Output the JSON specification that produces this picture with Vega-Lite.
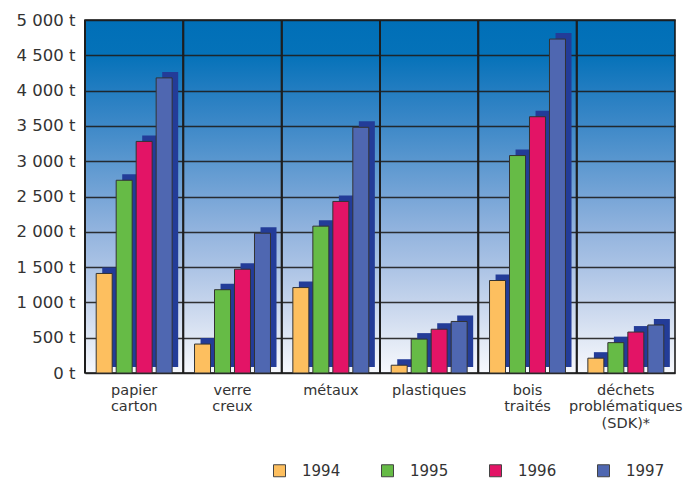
{
  "$schema": "https://vega.github.io/schema/vega-lite/v6.json",
  "width": 590,
  "height": 353,
  "autosize": "none",
  "padding": {"left": 85, "top": 20, "right": 16, "bottom": 108},
  "background": "white",
  "data": {
    "values": [
      {"cat": "papier\ncarton", "year": "1994", "t": 1410},
      {"cat": "papier\ncarton", "year": "1995", "t": 2730},
      {"cat": "papier\ncarton", "year": "1996", "t": 3280},
      {"cat": "papier\ncarton", "year": "1997", "t": 4180},
      {"cat": "verre\ncreux", "year": "1994", "t": 410},
      {"cat": "verre\ncreux", "year": "1995", "t": 1180},
      {"cat": "verre\ncreux", "year": "1996", "t": 1470},
      {"cat": "verre\ncreux", "year": "1997", "t": 1980},
      {"cat": "métaux", "year": "1994", "t": 1210},
      {"cat": "métaux", "year": "1995", "t": 2080},
      {"cat": "métaux", "year": "1996", "t": 2430},
      {"cat": "métaux", "year": "1997", "t": 3480},
      {"cat": "plastiques", "year": "1994", "t": 110},
      {"cat": "plastiques", "year": "1995", "t": 480},
      {"cat": "plastiques", "year": "1996", "t": 620},
      {"cat": "plastiques", "year": "1997", "t": 730},
      {"cat": "bois\ntraités", "year": "1994", "t": 1310},
      {"cat": "bois\ntraités", "year": "1995", "t": 3080},
      {"cat": "bois\ntraités", "year": "1996", "t": 3630},
      {"cat": "bois\ntraités", "year": "1997", "t": 4730},
      {"cat": "déchets\nproblématiques\n(SDK)*", "year": "1994", "t": 210},
      {"cat": "déchets\nproblématiques\n(SDK)*", "year": "1995", "t": 430},
      {"cat": "déchets\nproblématiques\n(SDK)*", "year": "1996", "t": 580},
      {"cat": "déchets\nproblématiques\n(SDK)*", "year": "1997", "t": 680}
    ]
  },
  "encoding": {
    "x": {
      "field": "cat",
      "type": "nominal",
      "sort": null,
      "scale": {"paddingInner": 0, "paddingOuter": 0},
      "axis": {
        "title": null,
        "ticks": false,
        "domain": false,
        "labelAngle": 0,
        "labelPadding": 10,
        "labelFont": "DejaVu Sans",
        "labelFontSize": 14.5,
        "labelColor": "#333333",
        "labelLineHeight": 16.5,
        "labelBaseline": "top",
        "labelExpr": "split(datum.label, '\\n')"
      }
    },
    "y": {
      "field": "t",
      "type": "quantitative",
      "scale": {"domain": [0, 5000], "nice": false},
      "axis": {
        "title": null,
        "values": [0, 500, 1000, 1500, 2000, 2500, 3000, 3500, 4000, 4500, 5000],
        "labelOverlap": false,
        "ticks": false,
        "domain": false,
        "labelPadding": 10,
        "labelFont": "DejaVu Sans",
        "labelFontSize": 16.5,
        "labelColor": "#333333",
        "gridColor": "#1e1e1e",
        "gridWidth": 1.5,
        "gridOpacity": 0.9,
        "labelExpr": "replace(format(datum.value, ','), ',', ' ') + ' t'"
      }
    }
  },
  "layer": [
    {
      "mark": {"type": "rule", "color": "#1e1e1e", "strokeWidth": 1.5},
      "encoding": {
        "x": {"field": "cat", "type": "nominal", "sort": null, "bandPosition": 0},
        "y": null
      }
    },
    {
      "mark": {"type": "bar", "color": "#233c98", "yOffset": -6},
      "encoding": {
        "xOffset": {"field": "year", "type": "nominal", "scale": {"paddingInner": 0.2, "paddingOuter": 0.56, "align": 0.77}}
      }
    },
    {
      "mark": {"type": "bar", "stroke": "#333333", "strokeWidth": 1},
      "encoding": {
        "xOffset": {"field": "year", "type": "nominal", "scale": {"paddingInner": 0.2, "paddingOuter": 0.56}},
        "color": {
          "field": "year",
          "type": "nominal",
          "scale": {"domain": ["1994", "1995", "1996", "1997"], "range": ["#fdbf5f", "#66bb46", "#e31466", "#4f67b1"]},
          "legend": {
            "title": null,
            "orient": "none",
            "legendX": 187,
            "legendY": 443,
            "direction": "horizontal",
            "columns": 4,
            "columnPadding": 38,
            "padding": 0,
            "symbolType": "square",
            "symbolSize": 144,
            "symbolStrokeColor": "#444444",
            "symbolStrokeWidth": 1,
            "labelOffset": 15,
            "labelFont": "DejaVu Sans",
            "labelFontSize": 15,
            "labelColor": "#333333"
          }
        }
      }
    }
  ],
  "resolve": {"scale": {"xOffset": "independent"}},
  "config": {
    "view": {
      "stroke": "#111111",
      "strokeWidth": 1.5,
      "fill": {
        "gradient": "linear",
        "x1": 0, "y1": 0, "x2": 0, "y2": 1,
        "stops": [
          {"offset": 0, "color": "#006fb7"},
          {"offset": 0.1, "color": "#0572b9"},
          {"offset": 0.2, "color": "#237dc1"},
          {"offset": 0.3, "color": "#3e89c8"},
          {"offset": 0.4, "color": "#5a97cf"},
          {"offset": 0.5, "color": "#77a5d7"},
          {"offset": 0.6, "color": "#93b4de"},
          {"offset": 0.7, "color": "#abc3e5"},
          {"offset": 0.8, "color": "#c5d4ec"},
          {"offset": 0.9, "color": "#dfe7f4"},
          {"offset": 1, "color": "#f7f9fd"}
        ]
      }
    }
  }
}
